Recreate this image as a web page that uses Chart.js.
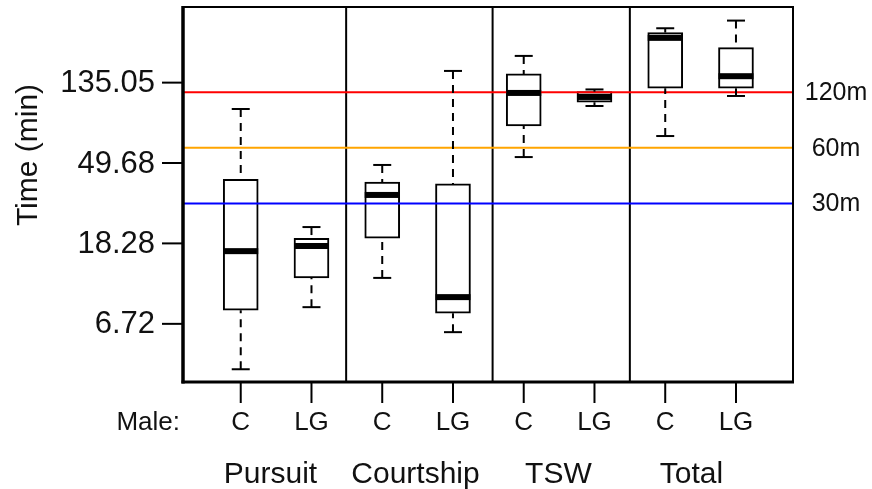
<!DOCTYPE html>
<html>
<head>
<meta charset="utf-8">
<script src="https://cdn.jsdelivr.net/npm/chart.js@4.4.1/dist/chart.umd.min.js"></script>
<style>
  html, body { margin: 0; padding: 0; background: #ffffff; }
  #wrap { width: 872px; height: 489px; position: relative; }
</style>
</head>
<body>
<div id="wrap"><canvas id="c" width="872" height="489"></canvas></div>
<script>
// ---- data ----
const groups = ['Pursuit', 'Courtship', 'TSW', 'Total'];
const categories = ['C', 'LG', 'C', 'LG', 'C', 'LG', 'C', 'LG'];
const xLabelPrefix = 'Male:';
const lowWhisker  = [3.82, 8.27, 11.9, 6.06, 53.5, 101.0, 69.5, 114.4];
const q1          = [7.96, 11.9, 19.5, 7.67, 78.8, 105.8, 125.9, 125.9];
const median      = [16.6, 17.7, 33.4, 9.37, 118.8, 113.0, 235.7, 146.3];
const q3          = [40.6, 19.5, 39.2, 38.3, 150.5, 120.7, 251.7, 208.9];
const highWhisker = [97.3, 22.4, 48.5, 156.2, 188.3, 124.1, 265.6, 292.2];
const yTicks = [6.72, 18.28, 49.68, 135.05];
const yTitle = 'Time (min)';
const refLines  = [120, 60, 30];
const refLabels = ['120m', '60m', '30m'];
const refColors = ['#ff0000', '#ffa500', '#0000ff'];

// positions on the x axis (category index 1..8) and group layout
const xPos = categories.map((_, i) => i + 1);
const groupBreaks = [2.49, 4.56, 6.5];
const groupCenters = [1.42, 3.47, 5.49, 7.37];
const X_MIN = 0.184, X_MAX = 8.806;
const Y_MIN = 3.26, Y_MAX = 346;

const FONT = '"Liberation Sans", Arial, Helvetica, sans-serif';

const boxExtras = {
  id: 'boxExtras',
  beforeDatasetsDraw(chart) {
    const { ctx, chartArea: a, scales: { x } } = chart;
    ctx.save();
    ctx.strokeStyle = '#000';
    ctx.lineWidth = 2;
    groupBreaks.forEach(b => {
      const px = x.getPixelForValue(b);
      ctx.beginPath(); ctx.moveTo(px, a.top); ctx.lineTo(px, a.bottom); ctx.stroke();
    });
    ctx.restore();
  },
  afterDatasetsDraw(chart) {
    const { ctx, scales: { x, y } } = chart;
    const halfBox = 17.5, halfCap = 9;
    ctx.save();
    ctx.strokeStyle = '#000';
    ctx.fillStyle = '#000';
    xPos.forEach((xv, i) => {
      const px = x.getPixelForValue(xv);
      const pLo = y.getPixelForValue(lowWhisker[i]);
      const pQ1 = y.getPixelForValue(q1[i]);
      const pMd = y.getPixelForValue(median[i]);
      const pQ3 = y.getPixelForValue(q3[i]);
      const pHi = y.getPixelForValue(highWhisker[i]);
      // dashed whiskers
      ctx.lineWidth = 2;
      ctx.setLineDash([8, 6]);
      ctx.beginPath(); ctx.moveTo(px, pHi); ctx.lineTo(px, pQ3); ctx.stroke();
      ctx.beginPath(); ctx.moveTo(px, pLo); ctx.lineTo(px, pQ1); ctx.stroke();
      ctx.setLineDash([]);
      // caps
      ctx.beginPath(); ctx.moveTo(px - halfCap, pHi); ctx.lineTo(px + halfCap, pHi); ctx.stroke();
      ctx.beginPath(); ctx.moveTo(px - halfCap, pLo); ctx.lineTo(px + halfCap, pLo); ctx.stroke();
      // median band
      ctx.fillRect(px - halfBox, pMd - 3, halfBox * 2, 6);
    });
    ctx.restore();
  },
  afterDraw(chart) {
    const { ctx, chartArea: a, scales: { x, y } } = chart;
    ctx.save();
    ctx.strokeStyle = '#000';
    // frame
    ctx.lineWidth = 2;
    ctx.beginPath();
    ctx.moveTo(a.left, a.top); ctx.lineTo(a.right, a.top); ctx.lineTo(a.right, a.bottom);
    ctx.stroke();
    ctx.lineWidth = 3.5;
    ctx.beginPath(); ctx.moveTo(a.left, a.top - 1); ctx.lineTo(a.left, a.bottom + 1.5); ctx.stroke();
    ctx.lineWidth = 3;
    ctx.beginPath(); ctx.moveTo(a.left - 1.5, a.bottom); ctx.lineTo(a.right + 1, a.bottom); ctx.stroke();

    // y ticks + labels
    ctx.lineWidth = 2;
    ctx.fillStyle = '#111';
    ctx.font = '31px ' + FONT;
    ctx.textAlign = 'right';
    ctx.textBaseline = 'middle';
    yTicks.forEach(t => {
      const py = y.getPixelForValue(t);
      ctx.beginPath(); ctx.moveTo(a.left - 21, py); ctx.lineTo(a.left, py); ctx.stroke();
      ctx.fillText(t.toFixed(2), a.left - 28, py + 1);
    });

    // x ticks + labels
    ctx.font = '26px ' + FONT;
    ctx.textAlign = 'center';
    ctx.textBaseline = 'alphabetic';
    xPos.forEach((xv, i) => {
      const px = x.getPixelForValue(xv);
      ctx.beginPath(); ctx.moveTo(px, a.bottom); ctx.lineTo(px, a.bottom + 21); ctx.stroke();
      ctx.fillText(categories[i], px, a.bottom + 48);
    });
    ctx.textAlign = 'right';
    ctx.fillText(xLabelPrefix, a.left - 3, a.bottom + 48);

    // group labels
    ctx.font = '30px ' + FONT;
    ctx.textAlign = 'center';
    groups.forEach((g, i) => {
      ctx.fillText(g, x.getPixelForValue(groupCenters[i]), a.bottom + 101);
    });

    // reference line labels
    ctx.font = '25px ' + FONT;
    ctx.textBaseline = 'middle';
    refLabels.forEach((lab, i) => {
      ctx.fillText(lab, 836, y.getPixelForValue(refLines[i]) + 1);
    });

    // y title
    ctx.font = '30px ' + FONT;
    ctx.translate(29, 155);
    ctx.rotate(-Math.PI / 2);
    ctx.textAlign = 'center';
    ctx.textBaseline = 'middle';
    ctx.fillText(yTitle, 0, 0);
    ctx.restore();
  }
};

const datasets = [
  {
    type: 'bar',
    label: 'box',
    data: xPos.map((xv, i) => ({ x: xv, y: [q1[i], q3[i]] })),
    backgroundColor: '#ffffff',
    borderColor: '#000000',
    borderWidth: 2,
    borderSkipped: false,
    barThickness: 35,
    order: 2
  }
];
refLines.forEach((v, i) => {
  datasets.push({
    type: 'line',
    label: refLabels[i],
    data: [{ x: X_MIN, y: v }, { x: X_MAX, y: v }],
    borderColor: refColors[i],
    borderWidth: 2,
    pointRadius: 0,
    fill: false,
    order: 1
  });
});

new Chart(document.getElementById('c'), {
  type: 'bar',
  data: { datasets },
  options: {
    responsive: false,
    animation: false,
    devicePixelRatio: 1,
    layout: { padding: { left: 183, right: 79, top: 7, bottom: 107 } },
    plugins: { legend: { display: false }, tooltip: { enabled: false } },
    scales: {
      x: { type: 'linear', min: X_MIN, max: X_MAX, offset: false, display: false },
      y: { type: 'logarithmic', min: Y_MIN, max: Y_MAX, display: false }
    }
  },
  plugins: [boxExtras]
});
</script>
</body>
</html>
